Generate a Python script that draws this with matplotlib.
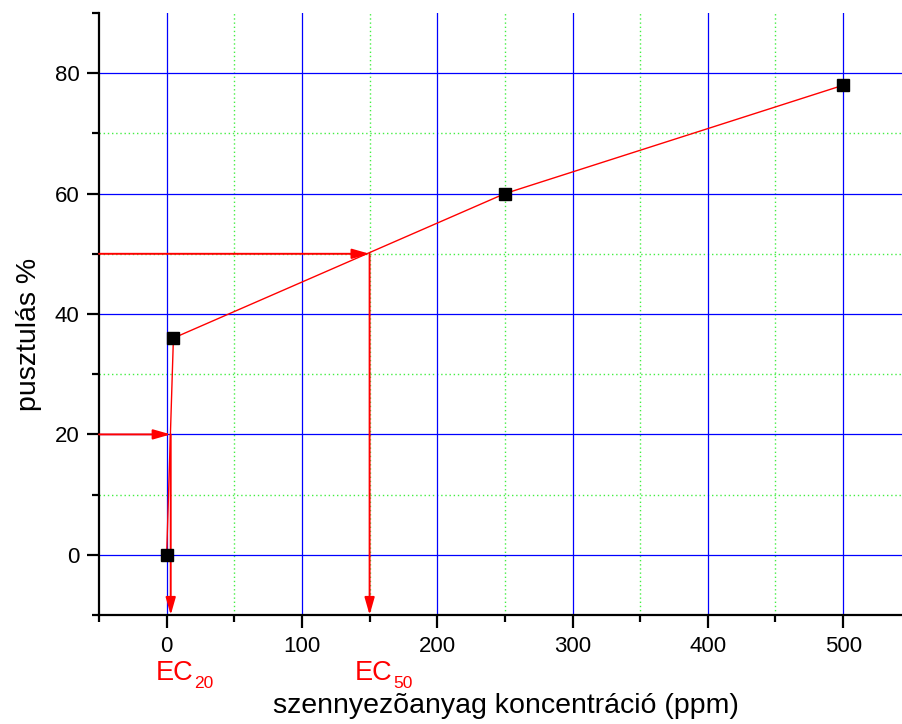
import matplotlib
matplotlib.use("Agg")
import matplotlib.pyplot as plt
from matplotlib.ticker import MultipleLocator
from matplotlib.transforms import blended_transform_factory

plt.rcParams['font.family'] = ['Liberation Sans', 'DejaVu Sans']

# Data
conc = [0, 5, 250, 500]
mortality = [0, 36, 60, 78]
ec_levels = [20, 50]
ec_values = [3, 150]
ec_main = ['EC', 'EC']
ec_subs = ['20', '50']
xlabel = 'szennyezõanyag koncentráció (ppm)'
ylabel = 'pusztulás %'

fig = plt.figure(figsize=(9.02, 7.24), dpi=100)
ax = fig.add_axes([99/902, 109/724, 1 - 99/902, (615-13)/724])

xmin, xmax = -50, 543.5
ymin, ymax = -10, 90
ax.set_xlim(xmin, xmax)
ax.set_ylim(ymin, ymax)

ax.xaxis.set_major_locator(MultipleLocator(100))
ax.xaxis.set_minor_locator(MultipleLocator(50))
ax.yaxis.set_major_locator(MultipleLocator(20))
ax.yaxis.set_minor_locator(MultipleLocator(10))

# grid drawn manually (no line along the top edge)
xmaj = [v for v in range(0, 501, 100)]
xmin_g = [v for v in range(50, 501, 100)]
ymaj = [v for v in range(0, 81, 20)]
ymin_g = [v for v in range(10, 81, 20)]
for v in xmaj:
    ax.axvline(v, color='#0000ff', lw=0.9, zorder=0.5)
for v in ymaj:
    ax.axhline(v, color='#0000ff', lw=0.9, zorder=0.5)
for v in xmin_g:
    ax.axvline(v, color='#44ee44', lw=1.0, ls=(0, (1, 2)), zorder=0.4)
for v in ymin_g:
    ax.axhline(v, color='#44ee44', lw=1.0, ls=(0, (1, 2)), zorder=0.4)

for s in ['top', 'right']:
    ax.spines[s].set_visible(False)
for s in ['left', 'bottom']:
    ax.spines[s].set_linewidth(1.6)

ax.tick_params(which='major', direction='out', length=9, width=1.6, labelsize=16)
ax.tick_params(which='minor', direction='out', length=5, width=1.6)
ax.tick_params(axis='x', which='major', pad=6)
ax.tick_params(axis='y', which='major', pad=5)

# data line and markers
ax.plot(conc, mortality, color='#ff0000', lw=1.0, zorder=3)
ax.plot(conc, mortality, ls='none', marker='s', ms=8.5, color='black', zorder=5)

# EC arrows
arrow_kw = dict(arrowstyle='-|>,head_length=0.7,head_width=0.2', color='#ff0000',
                lw=1.4, mutation_scale=15, shrinkA=0, shrinkB=0)
for lvl, val in zip(ec_levels, ec_values):
    ax.annotate('', xy=(val, lvl), xytext=(xmin, lvl), arrowprops=arrow_kw, zorder=4)
    ax.annotate('', xy=(val, ymin), xytext=(val, lvl), arrowprops=arrow_kw, zorder=4)

# EC labels (main text + subscript)
trans = blended_transform_factory(ax.transData, fig.transFigure)
for val, main, sub in zip(ec_values, ec_main, ec_subs):
    ax.text(val - 11, 44/724, main, transform=trans, color='#ff0000', fontsize=19.5,
            ha='left', va='baseline', clip_on=False)
    ax.annotate(sub, xy=(val - 11, 44/724), xycoords=trans, xytext=(27.5, -6),
                textcoords='offset points', color='#ff0000', fontsize=12.5,
                ha='left', va='baseline', annotation_clip=False)

fig.text(506/902, 18/724, xlabel, ha='center', va='center', fontsize=20.5)
fig.text(29/902, 1 - 334/724, ylabel, ha='center', va='center', rotation=90, fontsize=20.5)

fig.savefig('out.png', dpi=100)
